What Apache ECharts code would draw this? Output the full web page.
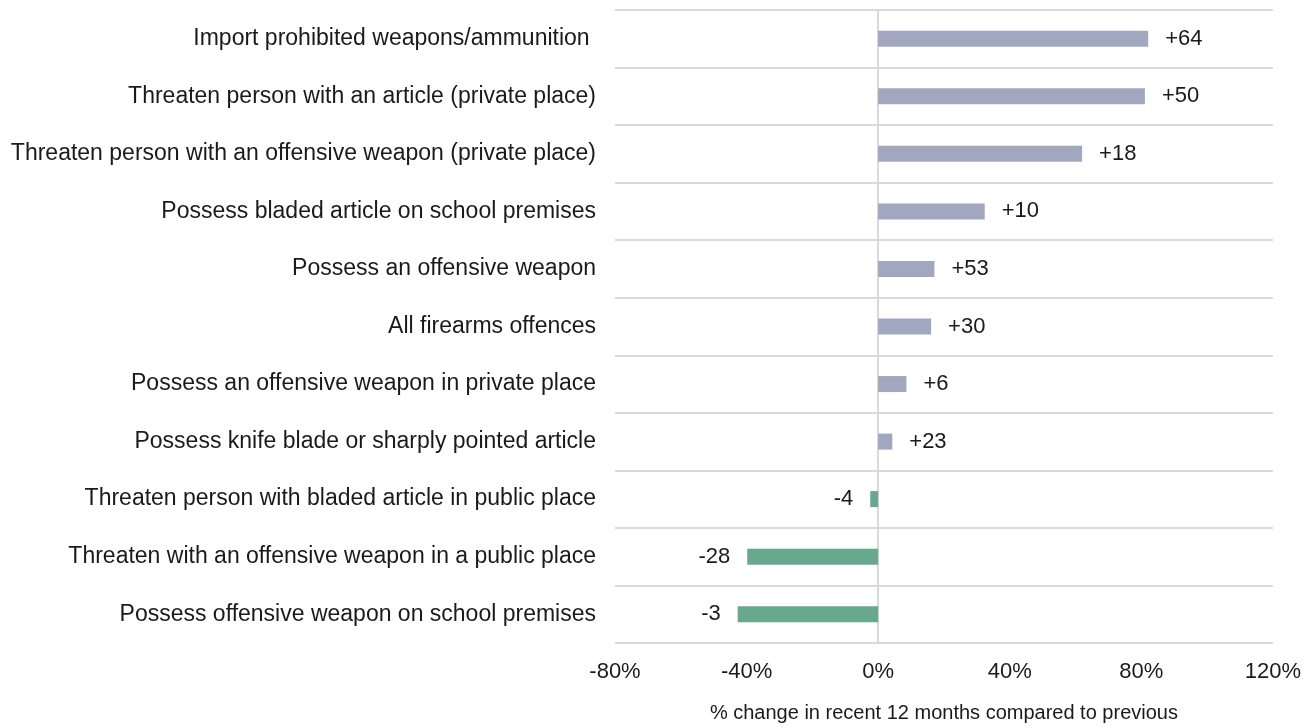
<!DOCTYPE html>
<html>
<head>
<meta charset="utf-8">
<script src="https://cdn.jsdelivr.net/npm/echarts@6/dist/echarts.min.js"></script>
<style>
  html, body { margin: 0; padding: 0; background: #ffffff; }
  #chart { width: 1304px; height: 728px; }
</style>
</head>
<body>
<div id="chart"></div>
<script>
// Offence categories, top to bottom
const categories = [
  'Import prohibited weapons/ammunition ',
  'Threaten person with an article (private place)',
  'Threaten person with an offensive weapon (private place)',
  'Possess bladed article on school premises',
  'Possess an offensive weapon',
  'All firearms offences',
  'Possess an offensive weapon in private place',
  'Possess knife blade or sharply pointed article',
  'Threaten person with bladed article in public place',
  'Threaten with an offensive weapon in a public place',
  'Possess offensive weapon on school premises'
];

// % change in recent 12 months compared to previous
const pctChange = [82.1, 81.1, 62.0, 32.4, 17.1, 16.1, 8.6, 4.3, -2.4, -39.8, -42.7];

// Change in number of offences, shown beside each bar
const countChange = [64, 50, 18, 10, 53, 30, 6, 23, -4, -28, -3];

// X axis ticks
const xTicks = [-80, -40, 0, 40, 80, 120];

const POS_COLOR = '#A0A7BF';
const NEG_COLOR = '#68A98D';
const GRID_COLOR = '#D9D9D9';
const TEXT_COLOR = '#1A1A1A';
const FONT = '"Liberation Sans", Arial, sans-serif';

const barData = pctChange.map((v, i) => ({
  value: v,
  itemStyle: { color: v >= 0 ? POS_COLOR : NEG_COLOR },
  label: {
    position: v >= 0 ? 'right' : 'left',
    formatter: () => (countChange[i] > 0 ? '+' : '') + countChange[i]
  }
}));

const chart = echarts.init(document.getElementById('chart'), null, { renderer: 'canvas' });

chart.setOption({
  animation: false,
  textStyle: { fontFamily: FONT },
  grid: { left: 615, right: 31, top: 10, bottom: 79, containLabel: false },
  xAxis: {
    type: 'value',
    min: xTicks[0],
    max: xTicks[xTicks.length - 1],
    interval: xTicks[1] - xTicks[0],
    name: '% change in recent 12 months compared to previous',
    nameLocation: 'middle',
    nameGap: 60,
    nameTextStyle: { fontSize: 20, color: TEXT_COLOR, fontFamily: FONT },
    axisLine: { show: false },
    axisTick: { show: false },
    splitLine: { show: false },
    axisLabel: {
      fontSize: 22,
      color: TEXT_COLOR,
      margin: 18,
      fontFamily: FONT,
      formatter: '{value}%'
    }
  },
  yAxis: {
    type: 'category',
    data: categories,
    inverse: true,
    axisLine: { show: false },
    axisTick: { show: false },
    splitLine: { show: true, lineStyle: { color: GRID_COLOR, width: 2 } },
    axisLabel: {
      fontSize: 23,
      color: TEXT_COLOR,
      margin: 19,
      fontFamily: FONT
    }
  },
  series: [{
    type: 'bar',
    data: barData,
    barWidth: 16,
    label: {
      show: true,
      fontSize: 22,
      color: TEXT_COLOR,
      distance: 17,
      fontFamily: FONT
    },
    markLine: {
      silent: true,
      symbol: 'none',
      label: { show: false },
      lineStyle: { color: GRID_COLOR, width: 2, type: 'solid' },
      data: [{ xAxis: 0 }],
      z: 1
    },
    z: 2
  }]
});
</script>
</body>
</html>
